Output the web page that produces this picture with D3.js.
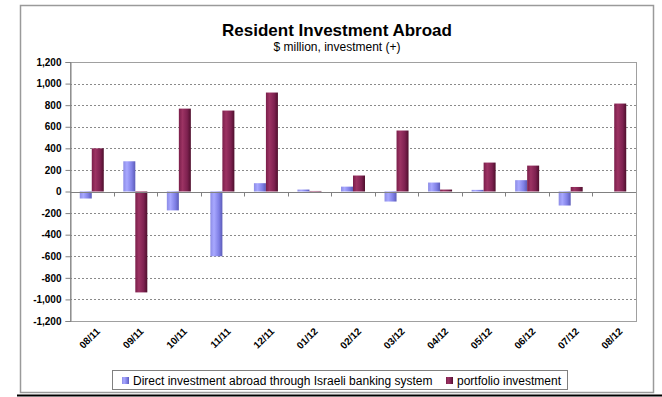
<!DOCTYPE html>
<html>
<head>
<meta charset="utf-8">
<script src="https://cdn.jsdelivr.net/npm/d3@7"></script>
<style>
body { margin: 0; background: #fff; }
svg { font-family: "Liberation Sans", Arial, sans-serif; }
</style>
</head>
<body>
<svg width="662" height="397"></svg>
<script>
var months = ["08/11", "09/11", "10/11", "11/11", "12/11", "01/12", "02/12", "03/12", "04/12", "05/12", "06/12", "07/12", "08/12"];
var direct = [-65, 280, -175, -600, 77, 18, 45, -93, 83, 15, 105, -130, 0];
var portfolio = [400, -935, 768, 750, 917, 5, 148, 565, 18, 268, 240, 42, 815];
var yTicks = [-1200, -1000, -800, -600, -400, -200, 0, 200, 400, 600, 800, 1000, 1200];
var seriesNames = ["Direct investment abroad through Israeli banking system", "portfolio investment"];

var svg = d3.select('svg');
var plotLeft = 70, plotRight = 636, plotTop = 62, plotBottom = 321;

var defs = svg.append('defs');
function gradient(id, stops) {
    var g = defs.append('linearGradient').attr('id', id)
        .attr('x1', 0).attr('x2', 1).attr('y1', 0).attr('y2', 0);
    stops.forEach(function(s) {
        g.append('stop').attr('offset', s[0]).attr('stop-color', s[1]);
    });
}
gradient('gBlue', [[0, '#8c8ce6'], [0.3, '#a8a8ff'], [0.7, '#8080e6'], [1, '#5c5cb8']]);
gradient('gMaroon', [[0, '#7a1e4a'], [0.3, '#9c3363'], [0.7, '#7e2150'], [1, '#4e0f2c']]);

// outer frame
svg.append('rect').attr('x', 20.5).attr('y', 5.5).attr('width', 633).attr('height', 387)
    .attr('fill', '#fff').attr('stroke', '#9a9a9a').attr('stroke-width', 1.5);
svg.append('line').attr('x1', 17).attr('x2', 662).attr('y1', 395.5).attr('y2', 395.5)
    .attr('stroke', '#000').attr('stroke-width', 2);

svg.append('text').attr('x', 337).attr('y', 36).attr('text-anchor', 'middle')
    .attr('font-size', 17).attr('font-weight', 'bold').text('Resident Investment Abroad');
svg.append('text').attr('x', 337).attr('y', 51).attr('text-anchor', 'middle')
    .attr('font-size', 12).text('$ million, investment (+)');

var x = d3.scaleBand().domain(months).range([plotLeft, plotRight]);
var y = d3.scaleLinear().domain([-1200, 1200]).range([plotBottom, plotTop]);

// plot border
svg.append('rect').attr('x', plotLeft + 0.5).attr('y', plotTop + 0.5)
    .attr('width', plotRight - plotLeft).attr('height', plotBottom - plotTop)
    .attr('fill', 'none').attr('stroke', '#a0a0a0').attr('stroke-width', 1);

// grid
svg.append('g').selectAll('line').data(yTicks.filter(function(d) { return d !== 0 && Math.abs(d) !== 1200; }))
    .enter().append('line')
    .attr('x1', plotLeft).attr('x2', plotRight)
    .attr('y1', function(d) { return Math.round(y(d)) + 0.5; })
    .attr('y2', function(d) { return Math.round(y(d)) + 0.5; })
    .attr('stroke', '#8a8a8a').attr('stroke-dasharray', '2,2');

// y axis (hyphen minus like the original)
var fmt = d3.format(',');
var yAxis = svg.append('g').attr('transform', 'translate(' + (plotLeft + 0.5) + ',0)')
    .call(d3.axisLeft(y).tickValues(yTicks).tickSize(5).tickPadding(4)
        .tickFormat(function(d) { return fmt(d).replace('\u2212', '-'); }));
yAxis.select('.domain').attr('stroke', '#808080');
yAxis.selectAll('.tick line').attr('stroke', '#808080');
yAxis.selectAll('text').attr('font-size', 10).attr('font-weight', 'bold').attr('fill', '#000')
    .attr('font-family', '"Liberation Sans", Arial, sans-serif');

// bars
var bw = 12;
var groups = svg.append('g').selectAll('g').data(months).enter().append('g');
groups.append('rect')
    .attr('x', function(d) { return x(d) + x.bandwidth() / 2 - bw; })
    .attr('width', bw)
    .attr('y', function(d, i) { return y(Math.max(0, direct[i])); })
    .attr('height', function(d, i) { return Math.abs(y(direct[i]) - y(0)); })
    .attr('fill', 'url(#gBlue)');
groups.append('rect')
    .attr('x', function(d) { return x(d) + x.bandwidth() / 2; })
    .attr('width', bw)
    .attr('y', function(d, i) { return y(Math.max(0, portfolio[i])); })
    .attr('height', function(d, i) { return Math.abs(y(portfolio[i]) - y(0)); })
    .attr('fill', 'url(#gMaroon)');

// zero line and category ticks
var zy = Math.round(y(0)) + 0.5;
svg.append('line').attr('x1', plotLeft).attr('x2', plotRight).attr('y1', zy).attr('y2', zy)
    .attr('stroke', '#808080');
svg.append('g').selectAll('line').data(months.slice(1)).enter().append('line')
    .attr('x1', function(d) { return Math.round(x(d)) + 0.5; })
    .attr('x2', function(d) { return Math.round(x(d)) + 0.5; })
    .attr('y1', zy).attr('y2', zy + 4).attr('stroke', '#808080');

// x labels
svg.append('g').selectAll('text').data(months).enter().append('text')
    .attr('transform', function(d) { return 'translate(' + (x(d) + x.bandwidth() / 2 + 4) + ',' + (plotBottom + 6) + ') rotate(-45)'; })
    .attr('text-anchor', 'end').attr('dy', '0.7em')
    .attr('font-size', 10).attr('font-weight', 'bold').text(function(d) { return d; });

// legend
var lg = svg.append('g');
lg.append('rect').attr('x', 112.5).attr('y', 370.5).attr('width', 455).attr('height', 19)
    .attr('fill', '#fff').attr('stroke', '#808080');
var legendX = [122, 446];
var fills = ['url(#gBlue)', 'url(#gMaroon)'];
seriesNames.forEach(function(name, i) {
    lg.append('rect').attr('x', legendX[i]).attr('y', 377).attr('width', 7).attr('height', 7).attr('fill', fills[i]);
    lg.append('text').attr('x', legendX[i] + 11).attr('y', 385).attr('font-size', 12).text(name);
});
</script>
</body>
</html>
